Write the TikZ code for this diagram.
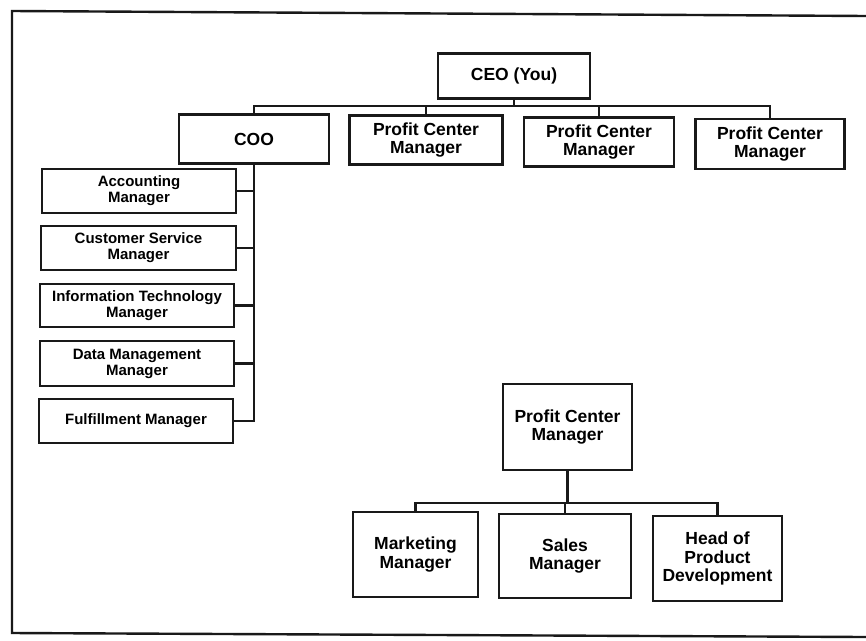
\documentclass[tikz,border=0pt]{standalone}
\usepackage{fontspec}
\setmainfont{Liberation Sans}
\begin{document}
\begin{tikzpicture}[x=1pt,y=-1pt,
  box/.style={draw=black!90, line width=2.2pt, align=center, inner sep=1pt,
    font=\bfseries\fontsize{17.5}{18.5}\selectfont},
  smallbox/.style={box, font=\bfseries\fontsize{15}{16}\selectfont},
  link/.style={draw=black!90, line width=2.2pt}]
\useasboundingbox[fill=white] (0,0) rectangle (866,640);

% page frame, open on the right
\draw[black!90, line width=2.4pt] (866,16) -- (12,11) -- (12,633) -- (866,637);

% top level
\node[box, minimum width=152pt, minimum height=45pt] (ceo) at (514,76) {CEO (You)};
\node[box, minimum width=150pt, minimum height=49pt] (coo) at (254,139) {COO};
\node[box, minimum width=153pt, minimum height=49pt] (pc1) at (426,140) {Profit Center\\Manager};
\node[box, minimum width=150pt, minimum height=49pt] (pc2) at (599,142) {Profit Center\\Manager};
\node[box, minimum width=149pt, minimum height=50pt] (pc3) at (770,144) {Profit Center\\Manager};

% departments under the COO
\node[smallbox, minimum width=194pt, minimum height=44pt] (acc) at (139,191) {Accounting\\Manager};
\node[smallbox, minimum width=195pt, minimum height=44pt] (cs) at (138.5,248) {Customer Service\\Manager};
\node[smallbox, minimum width=194pt, minimum height=43pt] (it) at (137,305.5) {Information Technology\\Manager};
\node[smallbox, minimum width=194pt, minimum height=45pt] (dm) at (137,363.5) {Data Management\\Manager};
\node[smallbox, minimum width=194pt, minimum height=44pt] (ful) at (136,421) {Fulfillment Manager};

% profit center detail
\node[box, minimum width=129pt, minimum height=86pt] (pcb) at (567.5,427) {Profit Center\\Manager};
\node[box, minimum width=125pt, minimum height=85pt] (mkt) at (415.5,554.5) {Marketing\\Manager};
\node[box, minimum width=132pt, minimum height=84pt] (sales) at (565,556) {Sales\\Manager};
\node[box, minimum width=129pt, minimum height=85pt] (head) at (717.5,558.5) {Head of\\Product\\Development};

% CEO bus
\coordinate (bus) at (514,106);
\draw[link] (ceo.south) -- (bus);
\draw[link] (coo.north) |- (bus) -| (pc3.north);
\draw[link] (pc1.north) -- (pc1.north |- bus);
\draw[link] (pc2.north) -- (pc2.north |- bus);

% COO spine
\draw[link] (coo.south) |- (ful.east);
\foreach \n in {acc,cs,it,dm}
  \draw[link] (\n.east) -- (\n.east -| coo.south);

% profit center bus
\coordinate (pbus) at (567.5,503);
\draw[link] (pcb.south) -- (pbus);
\draw[link] (mkt.north) |- (pbus) -| (head.north);
\draw[link] (sales.north) -- (sales.north |- pbus);
\end{tikzpicture}
\end{document}
